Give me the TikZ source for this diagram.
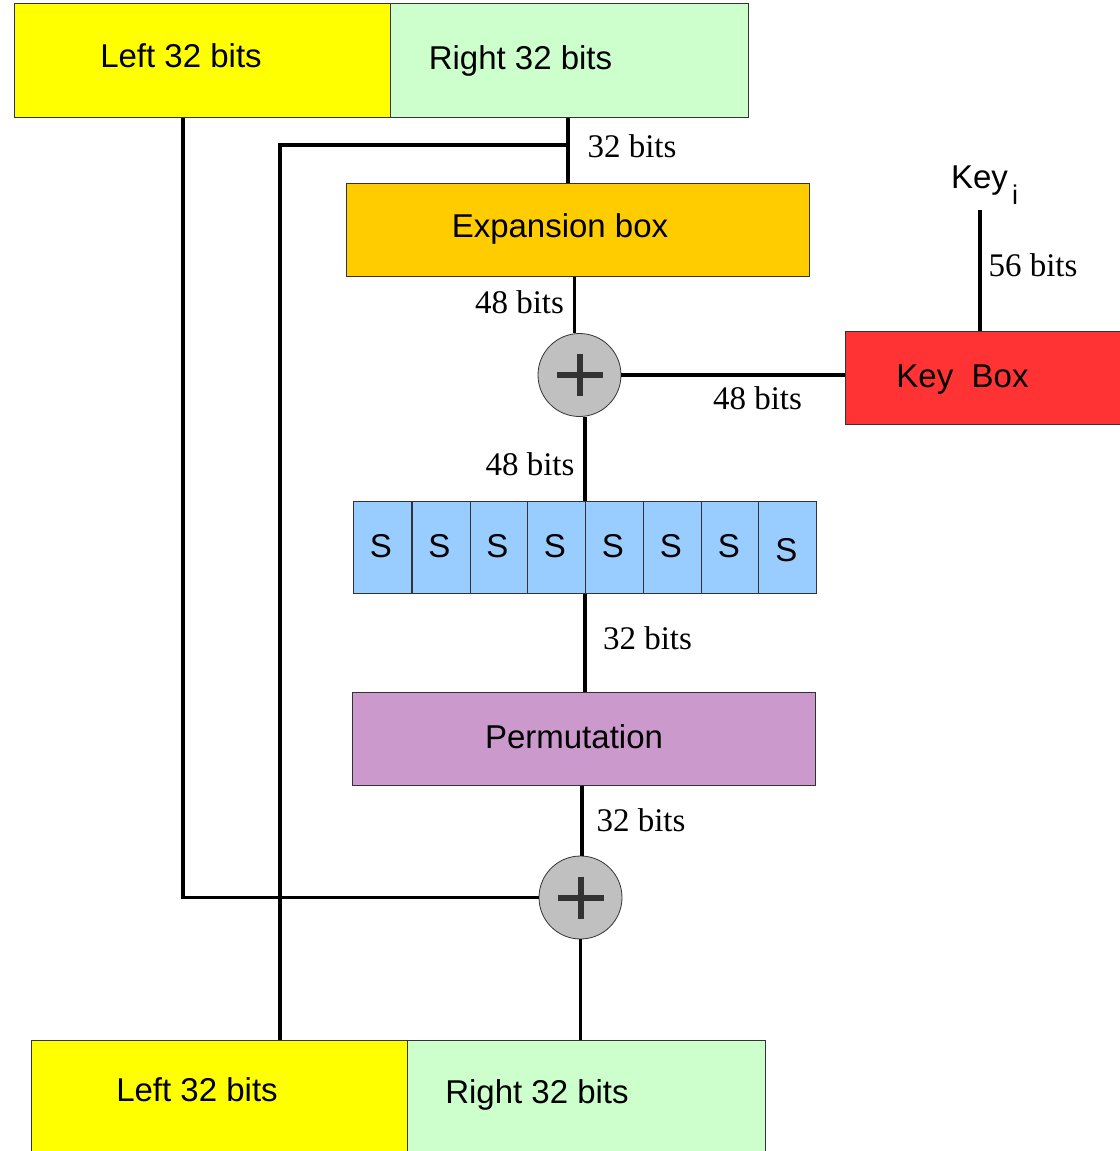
\documentclass[tikz,border=0pt]{standalone}
\usepackage{fontspec}
\setmainfont{Liberation Serif}
\setsansfont{Liberation Sans}
\definecolor{halfyellow}{HTML}{FFFF00}
\definecolor{halfgreen}{HTML}{CCFFCC}
\definecolor{expcol}{HTML}{FFCC00}
\definecolor{keycol}{HTML}{FF3333}
\definecolor{scol}{HTML}{99CCFF}
\definecolor{permcol}{HTML}{CC99CC}
\definecolor{xorcol}{HTML}{C0C0C0}
\begin{document}
\begin{tikzpicture}[x=1pt,y=-1pt,
  box/.style={draw=black!80, line width=0.8pt, inner sep=0pt, anchor=north west},
  sboxcell/.style={box, fill=scol, minimum width=58pt, minimum height=92pt},
  wire/.style={line width=3.6pt},
  sanslabel/.style={font=\sffamily\fontsize{33}{38}\selectfont, anchor=base, inner sep=0pt},
  bitlabel/.style={font=\rmfamily\fontsize{33}{38}\selectfont, anchor=base, inner sep=0pt},
  xorgate/.style={circle, draw=black!80, line width=0.8pt, fill=xorcol, minimum size=83pt, inner sep=0pt,
    path picture={
      \draw[line width=6pt] (path picture bounding box.center) ++(-23,0) -- ++(46,0);
      \draw[line width=6pt] (path picture bounding box.center) ++(0,-21) -- ++(0,42);
    }}]
\useasboundingbox (0,0) rectangle (1119,1151);

% input halves
\node[box, fill=halfyellow, minimum width=376pt, minimum height=114pt] (tl) at (14,3) {};
\node[box, fill=halfgreen, minimum width=358pt, minimum height=114pt] (tr) at (390,3) {};
\node[sanslabel] (tltext) at (181,67) {Left 32 bits};
\node[sanslabel] (trtext) at (520.5,69) {Right 32 bits};

% round function blocks
\node[box, fill=expcol, minimum width=463pt, minimum height=93pt] (exp) at (346,183) {};
\node[sanslabel] (exptext) at (560,237) {Expansion box};

\node[xorgate] (xor1) at (579.5,375) {};

\node[box, fill=keycol, minimum width=276pt, minimum height=93pt] (kb) at (845,331) {};
\node[sanslabel] (kbtext) at (962.5,387) {Key\ \ Box};
\node[sanslabel] (keyi) at (979.5,188) {Key};
\node[sanslabel, font=\sffamily\fontsize{27}{30}\selectfont] (keyisub) at (1015,204) {i};
\coordinate (keytop) at (980,210);

% substitution boxes
\foreach \i/\x in {1/353,2/411.5,3/469.5,4/527,5/585,6/643,7/701,8/758}{
  \node[sboxcell] (s\i) at (\x,501) {};
}
\foreach \i in {1,...,7}{
  \node[sanslabel] (st\i) at ([xshift=-1.5pt,yshift=-56pt]s\i.north) {S};
}
\node[sanslabel] (st8) at ([xshift=-1pt,yshift=-60pt]s8.north) {S};

\node[box, fill=permcol, minimum width=463pt, minimum height=93pt] (perm) at (352,692) {};
\node[sanslabel] (permtext) at (574,748) {Permutation};

\node[xorgate] (xor2) at (580.5,897.5) {};

% output halves
\node[box, fill=halfyellow, minimum width=376pt, minimum height=112pt] (bl) at (31,1040) {};
\node[box, fill=halfgreen, minimum width=358pt, minimum height=112pt] (br) at (407,1040) {};
\node[sanslabel] (bltext) at (197,1101) {Left 32 bits};
\node[sanslabel] (brtext) at (537,1103) {Right 32 bits};

% wiring
\coordinate (rtap) at (568,145);
\coordinate (lbend) at (280,145);
\coordinate (lcorner) at (183,897.5);

\draw[wire] (tr.south -| rtap) -- (exp.north -| rtap);
\draw[wire] (rtap) -- (lbend) -- (bl.north -| lbend);
\draw[wire] (tl.south -| lcorner) -- (lcorner) -- (xor2.west);
\draw[wire] ([xshift=-5pt]xor1.north |- exp.south) -- ([xshift=-5pt]xor1.north);
\draw[wire] (xor1.east) -- (xor1.east -| kb.west);
\draw[wire] (keytop) -- (keytop |- kb.north);
\draw[wire] (xor1.south -| s5.north west) -- (s5.north west);
\draw[wire] (s5.south west) -- (s5.south west |- perm.north);
\draw[wire] ([xshift=1.5pt]xor2.north |- perm.south) -- ([xshift=1.5pt]xor2.north);
\draw[wire] (xor2.south) -- (xor2.south |- br.north);

% bus widths
\node[bitlabel] (w1) at (632,157) {32 bits};
\node[bitlabel] (w2) at (519.5,313) {48 bits};
\node[bitlabel] (w3) at (757.5,409) {48 bits};
\node[bitlabel] (w4) at (1033,276) {56 bits};
\node[bitlabel] (w5) at (530,475) {48 bits};
\node[bitlabel] (w6) at (647.5,649) {32 bits};
\node[bitlabel] (w7) at (641,831) {32 bits};
\end{tikzpicture}
\end{document}
